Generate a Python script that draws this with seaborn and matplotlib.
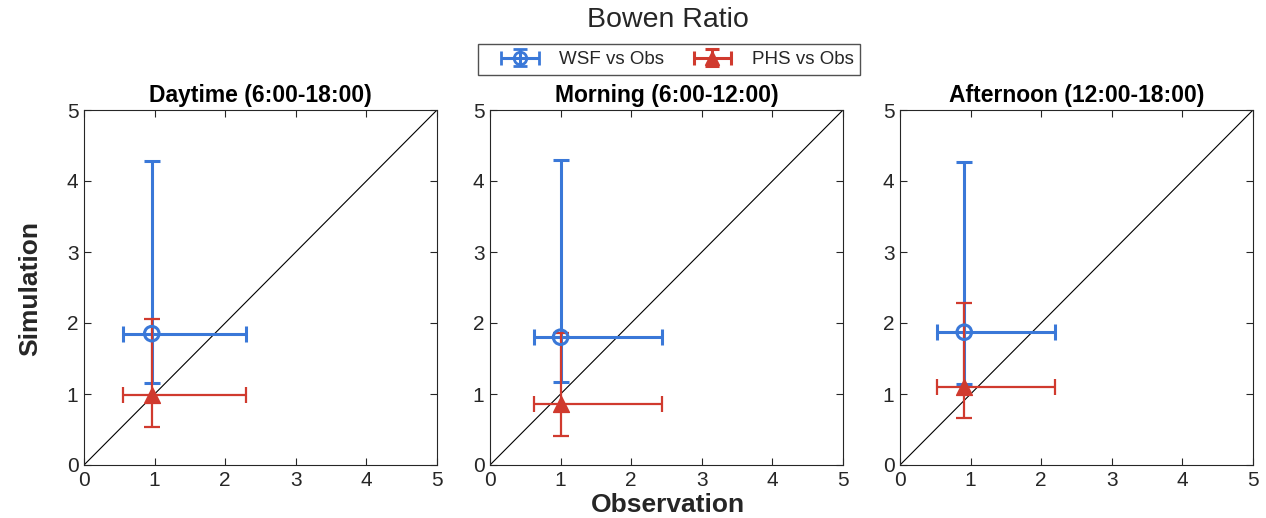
import matplotlib
matplotlib.use("Agg")
import matplotlib.pyplot as plt
import seaborn as sns
import pandas as pd
from matplotlib.legend_handler import HandlerErrorbar

sns.set_theme(style="ticks")
plt.rcParams['font.family'] = ['Liberation Sans', 'DejaVu Sans']

panels = ["Daytime (6:00-18:00)", "Morning (6:00-12:00)", "Afternoon (12:00-18:00)"]
# Observation mean and range (min, max)
obs_x = [0.96, 1.0, 0.91]
obs_lo = [0.55, 0.62, 0.52]
obs_hi = [2.29, 2.44, 2.19]
# WSF simulation
wsf_y = [1.85, 1.80, 1.87]
wsf_lo = [1.15, 1.17, 1.14]
wsf_hi = [4.28, 4.30, 4.27]
# PHS simulation
phs_y = [0.98, 0.86, 1.10]
phs_lo = [0.53, 0.41, 0.66]
phs_hi = [2.06, 1.86, 2.28]
series = ["WSF vs Obs", "PHS vs Obs"]

blue = "#3A78D8"
red = "#D03A2E"
txt = "#262626"

fig = plt.figure(figsize=(12.66, 5.18), dpi=100)
W, H = 1266, 518
lefts = [84, 490, 900]
for i, l in enumerate(lefts):
    ax = fig.add_axes([l / W, (H - 465) / H, 353 / W, 355 / H])
    df = pd.DataFrame({"x": [obs_x[i], obs_x[i]], "y": [wsf_y[i], phs_y[i]], "s": series})
    ax.plot([0, 5], [0, 5], color="black", lw=0.8, zorder=1)
    ax.errorbar(obs_x[i], wsf_y[i],
                xerr=[[obs_x[i] - obs_lo[i]], [obs_hi[i] - obs_x[i]]],
                yerr=[[wsf_y[i] - wsf_lo[i]], [wsf_hi[i] - wsf_y[i]]],
                fmt="none", ecolor=blue, elinewidth=2.2, capsize=6, capthick=2.2, zorder=2)
    ax.errorbar(obs_x[i], phs_y[i],
                xerr=[[obs_x[i] - obs_lo[i]], [obs_hi[i] - obs_x[i]]],
                yerr=[[phs_y[i] - phs_lo[i]], [phs_hi[i] - phs_y[i]]],
                fmt="none", ecolor=red, elinewidth=1.6, capsize=6, capthick=1.6, zorder=3)
    sns.scatterplot(data=df[df.s == series[0]], x="x", y="y", ax=ax, marker="o",
                    s=110, facecolor="none", edgecolor=blue, linewidth=2.2, zorder=4, legend=False)
    sns.scatterplot(data=df[df.s == series[1]], x="x", y="y", ax=ax, marker="^",
                    s=130, color=red, edgecolor=red, linewidth=1, zorder=5, legend=False)
    ax.set_xlim(0, 5)
    ax.set_ylim(0, 5)
    ax.set_xticks(range(6))
    ax.set_yticks(range(6))
    ax.set_xlabel("")
    ax.set_ylabel("")
    ax.tick_params(direction="in", top=True, right=True, labelsize=15, length=5, width=0.8,
                   colors=txt, pad=4)
    for sp in ax.spines.values():
        sp.set_linewidth(0.8)
        sp.set_color(txt)
    ax.set_title(panels[i], fontsize=16.5, fontweight="bold", pad=6, color="black")

fig.text(668 / W, 1 - 505 / H, "Observation", ha="center", va="center", fontsize=19, fontweight="bold",
         color=txt)
fig.text(30 / W, 1 - 288 / H, "Simulation", ha="center", va="center", rotation=90, fontsize=19,
         fontweight="bold", color=txt)
fig.text(668 / W, 1 - 20 / H, "Bowen Ratio", ha="center", va="center", fontsize=20.5, color=txt)

# legend handles from errorbar containers on a hidden axes
hax = fig.add_axes([0, 0, 0.01, 0.01])
hax.set_visible(False)
h1 = hax.errorbar([0], [0], xerr=[0.5], yerr=[0.5], fmt="o", color=blue, mfc="none", mew=2,
                  ms=9, elinewidth=2.2, capsize=5, capthick=2.2)
h2 = hax.errorbar([0], [0], xerr=[0.5], yerr=[0.5], fmt="^", color=red, ms=10,
                  elinewidth=2.2, capsize=5, capthick=2.2)
hmap = {h1: HandlerErrorbar(xerr_size=1.0, yerr_size=0.45),
        h2: HandlerErrorbar(xerr_size=1.0, yerr_size=0.45)}
fig.legend([h1, h2], series, loc="center", ncol=2, handler_map=hmap,
           bbox_to_anchor=(669 / W, 1 - 59.5 / H), fontsize=13.5, frameon=True, fancybox=False,
           edgecolor=txt, handlelength=3.8, columnspacing=0.65, borderpad=0.35, handletextpad=0.2)

fig.savefig("out.png", dpi=100)
